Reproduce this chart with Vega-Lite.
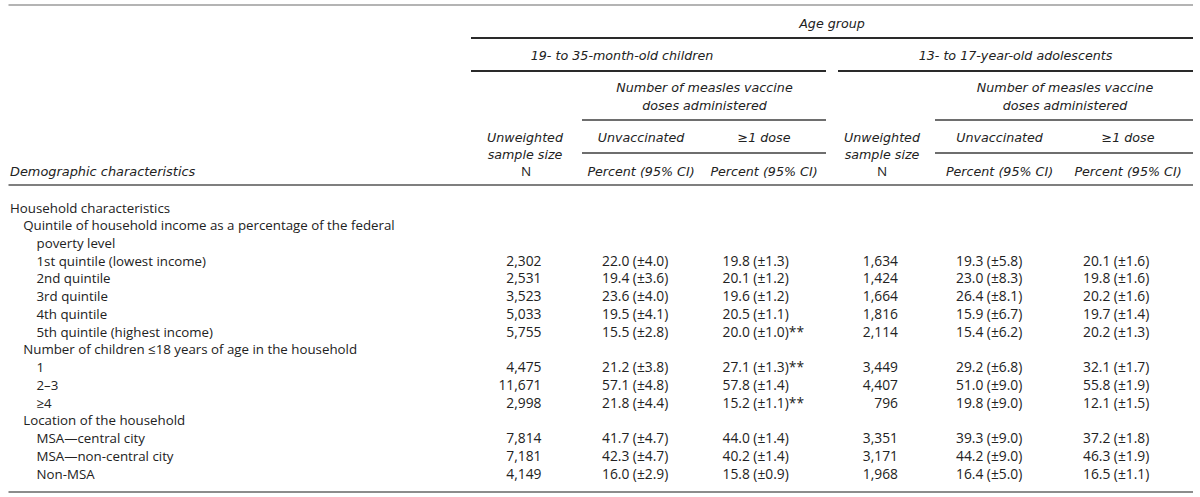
{
  "$schema": "https://vega.github.io/schema/vega-lite/v6.json",
  "width": 1200,
  "height": 497,
  "autosize": "none",
  "padding": 0,
  "background": "white",
  "config": {
    "view": {"stroke": null},
    "text": {"font": "Open Sans", "fontSize": 13, "color": "#222222", "baseline": "middle"}
  },
  "datasets": {
    "rows": [
      {"label": "Household characteristics", "level": 0, "n1": "", "u1": "", "d1": "", "n2": "", "u2": "", "d2": ""},
      {"label": "Quintile of household income as a percentage of the federal", "level": 1, "n1": "", "u1": "", "d1": "", "n2": "", "u2": "", "d2": ""},
      {"label": "poverty level", "level": 2, "n1": "", "u1": "", "d1": "", "n2": "", "u2": "", "d2": ""},
      {"label": "1st quintile (lowest income)", "level": 2, "n1": "2,302", "u1": "22.0 (±4.0)", "d1": "19.8 (±1.3)", "n2": "1,634", "u2": "19.3 (±5.8)", "d2": "20.1 (±1.6)"},
      {"label": "2nd quintile", "level": 2, "n1": "2,531", "u1": "19.4 (±3.6)", "d1": "20.1 (±1.2)", "n2": "1,424", "u2": "23.0 (±8.3)", "d2": "19.8 (±1.6)"},
      {"label": "3rd quintile", "level": 2, "n1": "3,523", "u1": "23.6 (±4.0)", "d1": "19.6 (±1.2)", "n2": "1,664", "u2": "26.4 (±8.1)", "d2": "20.2 (±1.6)"},
      {"label": "4th quintile", "level": 2, "n1": "5,033", "u1": "19.5 (±4.1)", "d1": "20.5 (±1.1)", "n2": "1,816", "u2": "15.9 (±6.7)", "d2": "19.7 (±1.4)"},
      {"label": "5th quintile (highest income)", "level": 2, "n1": "5,755", "u1": "15.5 (±2.8)", "d1": "20.0 (±1.0)**", "n2": "2,114", "u2": "15.4 (±6.2)", "d2": "20.2 (±1.3)"},
      {"label": "Number of children ≤18 years of age in the household", "level": 1, "n1": "", "u1": "", "d1": "", "n2": "", "u2": "", "d2": ""},
      {"label": "1", "level": 2, "n1": "4,475", "u1": "21.2 (±3.8)", "d1": "27.1 (±1.3)**", "n2": "3,449", "u2": "29.2 (±6.8)", "d2": "32.1 (±1.7)"},
      {"label": "2–3", "level": 2, "n1": "11,671", "u1": "57.1 (±4.8)", "d1": "57.8 (±1.4)", "n2": "4,407", "u2": "51.0 (±9.0)", "d2": "55.8 (±1.9)"},
      {"label": "≥4", "level": 2, "n1": "2,998", "u1": "21.8 (±4.4)", "d1": "15.2 (±1.1)**", "n2": "796", "u2": "19.8 (±9.0)", "d2": "12.1 (±1.5)"},
      {"label": "Location of the household", "level": 1, "n1": "", "u1": "", "d1": "", "n2": "", "u2": "", "d2": ""},
      {"label": "MSA—central city", "level": 2, "n1": "7,814", "u1": "41.7 (±4.7)", "d1": "44.0 (±1.4)", "n2": "3,351", "u2": "39.3 (±9.0)", "d2": "37.2 (±1.8)"},
      {"label": "MSA—non-central city", "level": 2, "n1": "7,181", "u1": "42.3 (±4.7)", "d1": "40.2 (±1.4)", "n2": "3,171", "u2": "44.2 (±9.0)", "d2": "46.3 (±1.9)"},
      {"label": "Non-MSA", "level": 2, "n1": "4,149", "u1": "16.0 (±2.9)", "d1": "15.8 (±0.9)", "n2": "1,968", "u2": "16.4 (±5.0)", "d2": "16.5 (±1.1)"}
    ],
    "header": [
      {"text": "Age group", "col": "AG", "line": "age"},
      {"text": "19- to 35-month-old children", "col": "G1", "line": "group"},
      {"text": "13- to 17-year-old adolescents", "col": "G2", "line": "group"},
      {"text": "Number of measles vaccine", "col": "M1", "line": "measlesA"},
      {"text": "doses administered", "col": "M1", "line": "measlesB"},
      {"text": "Number of measles vaccine", "col": "M2", "line": "measlesA"},
      {"text": "doses administered", "col": "M2", "line": "measlesB"},
      {"text": "Unweighted", "col": "N1", "line": "dose"},
      {"text": "sample size", "col": "N1", "line": "size"},
      {"text": "N", "col": "N1", "line": "unit"},
      {"text": "Unweighted", "col": "N2", "line": "dose"},
      {"text": "sample size", "col": "N2", "line": "size"},
      {"text": "N", "col": "N2", "line": "unit"},
      {"text": "Unvaccinated", "col": "U1", "line": "dose"},
      {"text": "≥1 dose", "col": "D1", "line": "dose"},
      {"text": "Percent (95% CI)", "col": "U1", "line": "unit"},
      {"text": "Percent (95% CI)", "col": "D1", "line": "unit"},
      {"text": "Unvaccinated", "col": "U2", "line": "dose"},
      {"text": "≥1 dose", "col": "D2", "line": "dose"},
      {"text": "Percent (95% CI)", "col": "U2", "line": "unit"},
      {"text": "Percent (95% CI)", "col": "D2", "line": "unit"},
      {"text": "Demographic characteristics", "col": "stub", "line": "unit"}
    ],
    "rules": [
      {"rule": "top", "from": "edgeL", "to": "edgeR"},
      {"rule": "headerBottom", "from": "edgeL", "to": "edgeR"},
      {"rule": "bottom", "from": "edgeL", "to": "edgeR"},
      {"rule": "age", "from": "groupsL", "to": "edgeR"},
      {"rule": "group", "from": "childL", "to": "childR"},
      {"rule": "group", "from": "adolL", "to": "edgeR"},
      {"rule": "measles", "from": "childDoseL", "to": "childR"},
      {"rule": "dose", "from": "childDoseL", "to": "childR"},
      {"rule": "measles", "from": "adolDoseL", "to": "edgeR"},
      {"rule": "dose", "from": "adolDoseL", "to": "edgeR"}
    ]
  },
  "resolve": {"scale": {"x": "independent", "y": "independent"}},
  "layer": [
    {
      "data": {"name": "rules"},
      "transform": [{"filter": "datum.rule == 'top'"}],
      "mark": {"type": "rule", "stroke": "#b4b4b4", "strokeWidth": 2},
      "encoding": {
        "x": {"field": "from", "type": "nominal", "scale": {"type": "point", "domain": ["edgeL", "edgeR"], "range": [8.5, 1193], "padding": 0}, "axis": null},
        "x2": {"field": "to"},
        "y": {"field": "rule", "type": "nominal", "scale": {"type": "point", "domain": ["top"], "range": [5, 5], "padding": 0}, "axis": null}
      }
    },
    {
      "data": {"name": "rules"},
      "transform": [{"filter": "datum.rule == 'headerBottom'"}],
      "mark": {"type": "rule", "stroke": "#555555", "strokeWidth": 1.5},
      "encoding": {
        "x": {"field": "from", "type": "nominal", "scale": {"type": "point", "domain": ["edgeL", "edgeR"], "range": [8.5, 1193], "padding": 0}, "axis": null},
        "x2": {"field": "to"},
        "y": {"field": "rule", "type": "nominal", "scale": {"type": "point", "domain": ["headerBottom"], "range": [185, 185], "padding": 0}, "axis": null}
      }
    },
    {
      "data": {"name": "rules"},
      "transform": [{"filter": "datum.rule == 'bottom'"}],
      "mark": {"type": "rule", "stroke": "#666666", "strokeWidth": 1.5},
      "encoding": {
        "x": {"field": "from", "type": "nominal", "scale": {"type": "point", "domain": ["edgeL", "edgeR"], "range": [8.5, 1193], "padding": 0}, "axis": null},
        "x2": {"field": "to"},
        "y": {"field": "rule", "type": "nominal", "scale": {"type": "point", "domain": ["bottom"], "range": [492, 492], "padding": 0}, "axis": null}
      }
    },
    {
      "data": {"name": "rules"},
      "transform": [{"filter": "datum.rule == 'age'"}],
      "mark": {"type": "rule", "stroke": "#2a2a2a", "strokeWidth": 2},
      "encoding": {
        "x": {"field": "from", "type": "nominal", "scale": {"type": "point", "domain": ["groupsL", "edgeR"], "range": [471, 1193], "padding": 0}, "axis": null},
        "x2": {"field": "to"},
        "y": {"field": "rule", "type": "nominal", "scale": {"type": "point", "domain": ["age"], "range": [38, 38], "padding": 0}, "axis": null}
      }
    },
    {
      "data": {"name": "rules"},
      "transform": [{"filter": "datum.rule == 'group' && datum.from == 'childL'"}],
      "mark": {"type": "rule", "stroke": "#2a2a2a", "strokeWidth": 2},
      "encoding": {
        "x": {"field": "from", "type": "nominal", "scale": {"type": "point", "domain": ["childL", "childR"], "range": [471, 826], "padding": 0}, "axis": null},
        "x2": {"field": "to"},
        "y": {"field": "rule", "type": "nominal", "scale": {"type": "point", "domain": ["group"], "range": [71, 71], "padding": 0}, "axis": null}
      }
    },
    {
      "data": {"name": "rules"},
      "transform": [{"filter": "datum.rule == 'group' && datum.from == 'adolL'"}],
      "mark": {"type": "rule", "stroke": "#2a2a2a", "strokeWidth": 2},
      "encoding": {
        "x": {"field": "from", "type": "nominal", "scale": {"type": "point", "domain": ["adolL", "edgeR"], "range": [838, 1193], "padding": 0}, "axis": null},
        "x2": {"field": "to"},
        "y": {"field": "rule", "type": "nominal", "scale": {"type": "point", "domain": ["group"], "range": [71, 71], "padding": 0}, "axis": null}
      }
    },
    {
      "data": {"name": "rules"},
      "transform": [{"filter": "datum.from == 'childDoseL'"}],
      "mark": {"type": "rule", "stroke": "#6e6e6e", "strokeWidth": 2},
      "encoding": {
        "x": {"field": "from", "type": "nominal", "scale": {"type": "point", "domain": ["childDoseL", "childR"], "range": [582, 826], "padding": 0}, "axis": null},
        "x2": {"field": "to"},
        "y": {"field": "rule", "type": "nominal", "scale": {"type": "point", "domain": ["measles", "dose"], "range": [120, 153], "padding": 0}, "axis": null}
      }
    },
    {
      "data": {"name": "rules"},
      "transform": [{"filter": "datum.from == 'adolDoseL'"}],
      "mark": {"type": "rule", "stroke": "#6e6e6e", "strokeWidth": 2},
      "encoding": {
        "x": {"field": "from", "type": "nominal", "scale": {"type": "point", "domain": ["adolDoseL", "edgeR"], "range": [935, 1193], "padding": 0}, "axis": null},
        "x2": {"field": "to"},
        "y": {"field": "rule", "type": "nominal", "scale": {"type": "point", "domain": ["measles", "dose"], "range": [120, 153], "padding": 0}, "axis": null}
      }
    },
    {
      "data": {"name": "header"},
      "transform": [{"filter": "datum.col == 'AG'"}],
      "mark": {"type": "text", "font": "DejaVu Sans", "fontSize": 12.7, "fontStyle": "italic", "align": "center"},
      "encoding": {
        "x": {"field": "col", "type": "nominal", "scale": {"type": "point", "domain": ["AG"], "range": [832, 832], "padding": 0}, "axis": null},
        "y": {"field": "line", "type": "nominal", "scale": {"type": "point", "domain": ["age"], "range": [24, 24], "padding": 0}, "axis": null},
        "text": {"field": "text"}
      }
    },
    {
      "data": {"name": "header"},
      "transform": [{"filter": "datum.col == 'G1' || datum.col == 'G2'"}],
      "mark": {"type": "text", "font": "DejaVu Sans", "fontSize": 12.7, "fontStyle": "italic", "align": "center"},
      "encoding": {
        "x": {"field": "col", "type": "nominal", "scale": {"type": "point", "domain": ["G1", "G2"], "range": [622, 1015.5], "padding": 0}, "axis": null},
        "y": {"field": "line", "type": "nominal", "scale": {"type": "point", "domain": ["group"], "range": [56, 56], "padding": 0}, "axis": null},
        "text": {"field": "text"}
      }
    },
    {
      "data": {"name": "header"},
      "transform": [{"filter": "datum.col == 'M1' || datum.col == 'M2'"}],
      "mark": {"type": "text", "font": "DejaVu Sans", "fontSize": 12.7, "fontStyle": "italic", "align": "center"},
      "encoding": {
        "x": {"field": "col", "type": "nominal", "scale": {"type": "point", "domain": ["M1", "M2"], "range": [704.5, 1065], "padding": 0}, "axis": null},
        "y": {"field": "line", "type": "nominal", "scale": {"type": "point", "domain": ["measlesA", "measlesB"], "range": [88, 106], "padding": 0}, "axis": null},
        "text": {"field": "text"}
      }
    },
    {
      "data": {"name": "header"},
      "transform": [{"filter": "(datum.col == 'N1' || datum.col == 'N2') && datum.text != 'N'"}],
      "mark": {"type": "text", "font": "DejaVu Sans", "fontSize": 12.7, "fontStyle": "italic", "align": "center"},
      "encoding": {
        "x": {"field": "col", "type": "nominal", "scale": {"type": "point", "domain": ["N1", "N2"], "range": [525, 882], "padding": 0}, "axis": null},
        "y": {"field": "line", "type": "nominal", "scale": {"type": "point", "domain": ["dose", "size", "unit"], "range": [137.5, 171.5], "padding": 0}, "axis": null},
        "text": {"field": "text"}
      }
    },
    {
      "data": {"name": "header"},
      "transform": [{"filter": "(datum.col == 'N1' || datum.col == 'N2') && datum.text == 'N'"}],
      "mark": {"type": "text", "align": "center", "fontSize": 13.5},
      "encoding": {
        "x": {"field": "col", "type": "nominal", "scale": {"type": "point", "domain": ["N1", "N2"], "range": [526, 882], "padding": 0}, "axis": null},
        "y": {"field": "line", "type": "nominal", "scale": {"type": "point", "domain": ["dose", "size", "unit"], "range": [137.5, 171.5], "padding": 0}, "axis": null},
        "text": {"field": "text"}
      }
    },
    {
      "data": {"name": "header"},
      "transform": [{"filter": "datum.col == 'U1' || datum.col == 'D1'"}],
      "mark": {"type": "text", "font": "DejaVu Sans", "fontSize": 12.7, "fontStyle": "italic", "align": "center"},
      "encoding": {
        "x": {"field": "col", "type": "nominal", "scale": {"type": "point", "domain": ["U1", "D1"], "range": [641, 764], "padding": 0}, "axis": null},
        "y": {"field": "line", "type": "nominal", "scale": {"type": "point", "domain": ["dose", "size", "unit"], "range": [137.5, 171.5], "padding": 0}, "axis": null},
        "text": {"field": "text"}
      }
    },
    {
      "data": {"name": "header"},
      "transform": [{"filter": "datum.col == 'U2' || datum.col == 'D2'"}],
      "mark": {"type": "text", "font": "DejaVu Sans", "fontSize": 12.7, "fontStyle": "italic", "align": "center"},
      "encoding": {
        "x": {"field": "col", "type": "nominal", "scale": {"type": "point", "domain": ["U2", "D2"], "range": [999.5, 1128], "padding": 0}, "axis": null},
        "y": {"field": "line", "type": "nominal", "scale": {"type": "point", "domain": ["dose", "size", "unit"], "range": [137.5, 171.5], "padding": 0}, "axis": null},
        "text": {"field": "text"}
      }
    },
    {
      "data": {"name": "header"},
      "transform": [{"filter": "datum.col == 'stub'"}],
      "mark": {"type": "text", "font": "DejaVu Sans", "fontSize": 12.9, "fontStyle": "italic", "align": "left"},
      "encoding": {
        "x": {"field": "col", "type": "nominal", "scale": {"type": "point", "domain": ["stub"], "range": [10, 10], "padding": 0}, "axis": null},
        "y": {"field": "line", "type": "nominal", "scale": {"type": "point", "domain": ["unit"], "range": [171.5, 171.5], "padding": 0}, "axis": null},
        "text": {"field": "text"}
      }
    },
    {
      "data": {"name": "rows"},
      "mark": {"type": "text", "align": "left", "fontSize": 13.3},
      "encoding": {
        "x": {"field": "level", "type": "ordinal", "scale": {"type": "point", "domain": [0, 1, 2], "range": [10, 36.5], "padding": 0}, "axis": null},
        "y": {"field": "label", "type": "nominal", "sort": null, "scale": {"type": "point", "range": [208.5, 474.7], "padding": 0}, "axis": null},
        "text": {"field": "label"}
      }
    },
    {
      "data": {"name": "rows"},
      "transform": [{"fold": ["n1", "n2"], "as": ["col", "val"]}],
      "mark": {"type": "text", "align": "right", "fontSize": 13.8},
      "encoding": {
        "x": {"field": "col", "type": "nominal", "scale": {"type": "point", "domain": ["n1", "n2"], "range": [541.5, 898], "padding": 0}, "axis": null},
        "y": {"field": "label", "type": "nominal", "sort": null, "scale": {"type": "point", "range": [208.5, 474.7], "padding": 0}, "axis": null},
        "text": {"field": "val"}
      }
    },
    {
      "data": {"name": "rows"},
      "transform": [{"fold": ["u1", "d1"], "as": ["col", "val"]}],
      "mark": {"type": "text", "align": "left", "fontSize": 13.8},
      "encoding": {
        "x": {"field": "col", "type": "nominal", "scale": {"type": "point", "domain": ["u1", "d1"], "range": [602, 722.5], "padding": 0}, "axis": null},
        "y": {"field": "label", "type": "nominal", "sort": null, "scale": {"type": "point", "range": [208.5, 474.7], "padding": 0}, "axis": null},
        "text": {"field": "val"}
      }
    },
    {
      "data": {"name": "rows"},
      "transform": [{"fold": ["u2", "d2"], "as": ["col", "val"]}],
      "mark": {"type": "text", "align": "left", "fontSize": 13.8},
      "encoding": {
        "x": {"field": "col", "type": "nominal", "scale": {"type": "point", "domain": ["u2", "d2"], "range": [956, 1083], "padding": 0}, "axis": null},
        "y": {"field": "label", "type": "nominal", "sort": null, "scale": {"type": "point", "range": [208.5, 474.7], "padding": 0}, "axis": null},
        "text": {"field": "val"}
      }
    }
  ]
}
